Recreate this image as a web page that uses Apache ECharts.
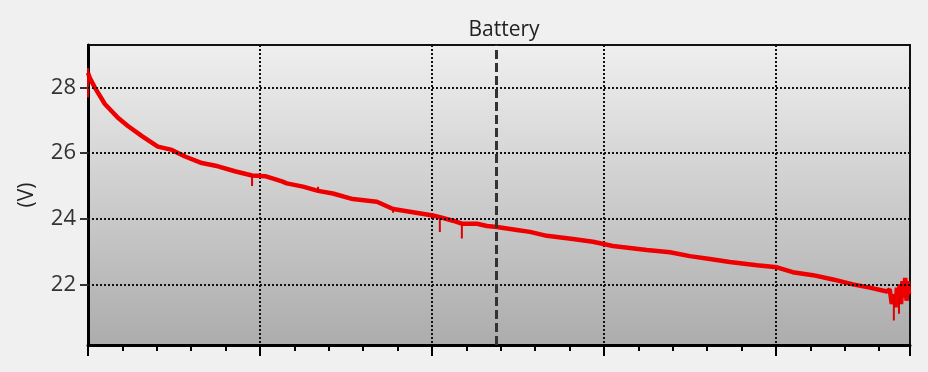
<!DOCTYPE html>
<html>
<head>
<meta charset="utf-8">
<script src="https://cdn.jsdelivr.net/npm/echarts@6/dist/echarts.min.js"></script>
<style>
html,body{margin:0;padding:0;background:#f0f0f0;}
#c{width:928px;height:372px;}
</style>
</head>
<body>
<div id="c"></div>
<script>
const titleText = 'Battery';
const yAxisName = '(V)';
const yTicks = [22, 24, 26, 28];
const cursorX = 11.86;
// time (arbitrary units, 1 per minor tick) and voltage readings
const timeX = [0, 0.05, 0.2, 0.49, 0.87, 1.16, 1.57, 2.03, 2.44, 2.82, 3.31, 3.78, 4.27,
  4.77, 5.15, 5.64, 5.78, 6.25, 6.69, 7.12, 7.70, 8.40,
  8.87, 9.45, 10.03, 10.23, 10.61, 10.87,
  11.31, 11.60, 11.89, 12.47, 12.85, 13.34, 14.10, 14.68, 15.26, 16.25, 16.92,
  17.50, 18.08, 18.66, 19.45, 20.03, 20.49, 21.08, 21.66, 22.24, 22.73, 23.23,
  23.31, 23.37, 23.43, 23.48, 23.52, 23.56, 23.60, 23.64, 23.68, 23.72, 23.76, 23.80, 23.84, 23.87];
const voltage = [28.45, 28.3, 28.0, 27.5, 27.08, 26.83, 26.52, 26.2, 26.1, 25.9, 25.7, 25.6, 25.45,
  25.32, 25.3, 25.14, 25.08, 24.98, 24.85, 24.77, 24.6, 24.52,
  24.3, 24.2, 24.1, 24.05, 23.94, 23.85,
  23.85, 23.78, 23.75, 23.66, 23.6, 23.48, 23.38, 23.3, 23.17, 23.05, 22.98,
  22.86, 22.77, 22.68, 22.58, 22.52, 22.37, 22.28, 22.15, 22.0, 21.9, 21.78,
  21.85, 21.4, 21.7, 21.3, 21.9, 21.45, 22.0, 21.4, 22.1, 21.6, 22.2, 21.5, 22.1, 21.7];
// short downward glitches: x, top, bottom
const spikeX = [0, 4.77, 6.69, 8.87, 10.23, 10.87, 23.43, 23.58];
const spikeTop = [28.6, 25.32, 24.98, 24.3, 24.05, 23.85, 21.7, 21.6];
const spikeBottom = [27.7, 25.0, 24.85, 24.18, 23.6, 23.4, 20.9, 21.1];

const chart = echarts.init(document.getElementById('c'));
const data = timeX.map((x, i) => [x, voltage[i]]);
const spikeData = [];
spikeX.forEach((x, i) => { spikeData.push([x, spikeTop[i]], [x, spikeBottom[i]], [x, '-']); });
const font = 'Open Sans';
chart.setOption({
  backgroundColor: '#f0f0f0',
  animation: false,
  title: {
    text: titleText, left: 499, top: 15, textAlign: 'center',
    textStyle: {fontFamily: font, fontSize: 21, fontWeight: 'normal', color: '#222'}
  },
  grid: {
    left: 88, right: 18, top: 45, bottom: 27, show: true,
    borderColor: '#111', borderWidth: 2,
    backgroundColor: new echarts.graphic.LinearGradient(0, 0, 0, 1, [
      {offset: 0, color: '#efefef'}, {offset: 1, color: '#acacac'}
    ])
  },
  xAxis: {
    type: 'value', min: 0, max: 23.9, interval: 5,
    axisLine: {show: true, lineStyle: {color: '#000', width: 3}},
    axisTick: {show: true, length: 11, lineStyle: {color: '#000', width: 2}},
    minorTick: {show: true, splitNumber: 5, length: 6, lineStyle: {color: '#000', width: 2}},
    axisLabel: {show: false},
    splitLine: {show: true, lineStyle: {color: '#111', type: [2, 2], width: 2}}
  },
  yAxis: {
    type: 'value', min: 20.15, max: 29.3,
    name: yAxisName, nameLocation: 'middle', nameGap: 50, nameRotate: 90,
    nameTextStyle: {fontFamily: font, fontSize: 21, color: '#222'},
    axisLine: {show: true, lineStyle: {color: '#000', width: 3}},
    axisTick: {show: true, length: 8, customValues: yTicks, lineStyle: {color: '#333', width: 2}},
    axisLabel: {show: true, customValues: yTicks, margin: 12,
      fontFamily: font, fontSize: 22, color: '#333'},
    splitLine: {show: false}
  },
  series: [{
    type: 'line', data: data, showSymbol: false,
    lineStyle: {color: '#ee0000', width: 4.5},
    markLine: {
      silent: true, symbol: 'none', label: {show: false},
      data: yTicks.map(v => ({yAxis: v, lineStyle: {color: '#111', type: [2, 2], width: 2}}))
        .concat([{xAxis: cursorX, lineStyle: {color: '#333', type: [9, 4], width: 3}}])
    }
  }, {
    type: 'line', data: spikeData, showSymbol: false, connectNulls: false,
    lineStyle: {color: '#dd0000', width: 2}
  }]
});
</script>
</body>
</html>
